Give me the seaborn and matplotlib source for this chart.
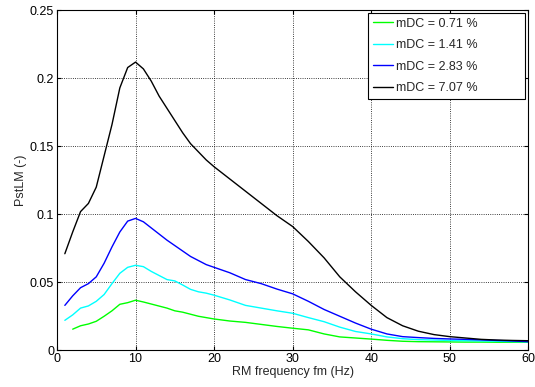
import numpy as np
import pandas as pd
import matplotlib
matplotlib.use("Agg")
import matplotlib.pyplot as plt
import seaborn as sns

# frequencies (Hz)
freq = [1, 2, 3, 4, 5, 6, 7, 8, 9, 10, 11, 12, 13, 14, 15, 16, 17, 18, 19, 20,
        22, 24, 26, 28, 30, 32, 34, 36, 38, 40, 42, 44, 46, 48, 50, 52, 54, 56, 58, 60]

pst_071 = [np.nan, 0.0155, 0.018, 0.0193, 0.0213, 0.025, 0.029, 0.0338, 0.035, 0.0368,
           0.0355, 0.034, 0.0325, 0.031, 0.029, 0.028, 0.0265, 0.025, 0.024, 0.023,
           0.0215, 0.0205, 0.019, 0.0175, 0.0162, 0.015, 0.012, 0.0098, 0.009, 0.0082,
           0.0073, 0.0066, 0.0063, 0.0062, 0.0061, 0.006, 0.006, 0.0059, 0.0059, 0.0059]
pst_141 = [0.022, 0.026, 0.031, 0.0326, 0.036, 0.041, 0.049, 0.0566, 0.061, 0.0625,
           0.0615, 0.058, 0.055, 0.052, 0.051, 0.048, 0.0448, 0.043, 0.042, 0.0405,
           0.037, 0.033, 0.031, 0.029, 0.0272, 0.024, 0.021, 0.017, 0.0138, 0.012,
           0.0098, 0.0085, 0.0078, 0.0075, 0.0072, 0.007, 0.0068, 0.0066, 0.0064, 0.0062]
pst_283 = [0.033, 0.040, 0.046, 0.049, 0.054, 0.064, 0.076, 0.087, 0.095, 0.097,
           0.0945, 0.090, 0.0855, 0.081, 0.077, 0.073, 0.069, 0.066, 0.063, 0.061,
           0.057, 0.052, 0.049, 0.045, 0.0415, 0.036, 0.030, 0.025, 0.020, 0.0155,
           0.012, 0.010, 0.0093, 0.0087, 0.0083, 0.008, 0.0076, 0.0072, 0.0068, 0.0063]
pst_707 = [0.071, 0.087, 0.102, 0.108, 0.120, 0.143, 0.166, 0.193, 0.208, 0.212,
           0.207, 0.198, 0.187, 0.178, 0.169, 0.160, 0.152, 0.146, 0.140, 0.135,
           0.126, 0.117, 0.108, 0.099, 0.091, 0.080, 0.068, 0.054, 0.043, 0.033,
           0.024, 0.018, 0.014, 0.0115, 0.010, 0.009, 0.008, 0.0075, 0.0072, 0.0070]

labels = ["mDC = 0.71 %", "mDC = 1.41 %", "mDC = 2.83 %", "mDC = 7.07 %"]
colors = ["#00ff00", "#00ffff", "#0000ff", "#000000"]

xticks = [0, 10, 20, 30, 40, 50, 60]
yticks = [0, 0.05, 0.1, 0.15, 0.2, 0.25]
ytick_labels = ["0", "0.05", "0.1", "0.15", "0.2", "0.25"]

# long format table for seaborn
frames = []
for lab, vals in zip(labels, [pst_071, pst_141, pst_283, pst_707]):
    frames.append(pd.DataFrame({"fm": freq, "pst": vals, "series": lab}))
df = pd.concat(frames).dropna()

sns.set_style("white")
plt.rcParams["font.family"] = ["Liberation Sans", "DejaVu Sans"]
plt.rcParams["font.size"] = 9

fig = plt.figure(figsize=(5.35, 3.87), dpi=100)
ax = fig.add_axes([0.1065, 0.095, 0.881, 0.878])

sns.lineplot(data=df, x="fm", y="pst", hue="series", palette=colors,
             hue_order=labels, linewidth=1.0, ax=ax, sort=False)

ax.set_xlim(0, 60)
ax.set_ylim(0, 0.25)
ax.set_xticks(xticks)
ax.set_yticks(yticks)
ax.set_yticklabels(ytick_labels)
ax.grid(True, color="black", linestyle=":", linewidth=0.6)
ax.tick_params(direction="in", length=3, top=True, right=True,
               bottom=True, left=True, labelsize=9, colors="black", pad=2)
for sp in ax.spines.values():
    sp.set_color("black")
    sp.set_linewidth(0.8)

ax.set_xlabel("RM frequency fm (Hz)", fontsize=9, labelpad=1)
ax.set_ylabel("PstLM (-)", fontsize=9, labelpad=2)

# MATLAB-like legend box: wide frame hugging the top right corner
leg = ax.legend(loc="upper left", bbox_to_anchor=(0.660, 0.993, 0.334, 0.0),
                mode="expand", frameon=True, fancybox=False, fontsize=9,
                borderaxespad=0.0, handlelength=1.6, handletextpad=0.25,
                labelspacing=0.75, borderpad=0.4)
leg.get_frame().set_edgecolor("black")
leg.get_frame().set_linewidth(0.8)
leg.get_frame().set_alpha(1)

fig.savefig("out.png", dpi=100)
